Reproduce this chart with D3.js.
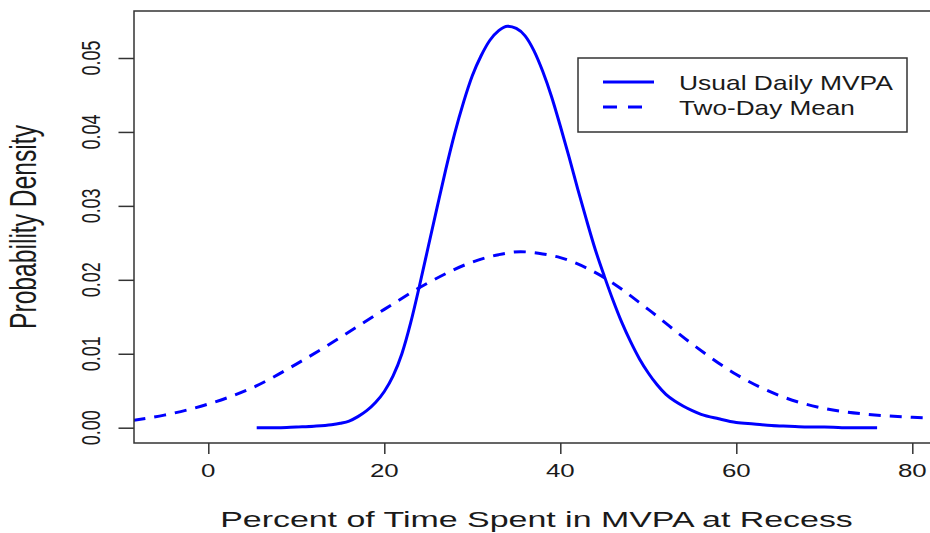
<!DOCTYPE html>
<html>
<head>
<meta charset="utf-8">
<script src="https://cdn.jsdelivr.net/npm/d3@7"></script>
<style>
  html, body { margin: 0; padding: 0; background: #fff; }
  svg { display: block; }
  text { font-family: "Liberation Sans", Arial, sans-serif; fill: #1a1a1a; }
</style>
</head>
<body>
<div id="chart"></div>
<script>
// Density curves
var usualX = [5.5, 8, 10, 12, 14, 15, 16, 17, 18, 19, 20, 21, 22, 23, 24, 25, 26, 27, 28, 29, 30,
              31, 32, 33, 34, 35, 36, 37, 38, 39, 40, 41, 42, 43, 44, 45, 46, 47, 48, 49, 50,
              51, 52, 53, 54, 55, 56, 58, 60, 62, 64, 66, 68, 70, 72, 76];
var usualY = [0.0000, 0.0000, 0.0001, 0.0002, 0.0004, 0.0006, 0.0009, 0.0015, 0.0023, 0.0034, 0.0049,
              0.0070, 0.0100, 0.0142, 0.0192, 0.0245, 0.0298, 0.0350, 0.0398, 0.0440, 0.0476,
              0.0503, 0.0524, 0.0537, 0.0543, 0.0540, 0.0530, 0.0510, 0.0482, 0.0448, 0.0408,
              0.0366, 0.0322, 0.0280, 0.0240, 0.0205, 0.0172, 0.0142, 0.0116, 0.0093, 0.0074,
              0.0058, 0.0045, 0.0036, 0.0029, 0.0023, 0.0018, 0.0012, 0.0007, 0.0005, 0.0003,
              0.0002, 0.0001, 0.0001, 0.0000, 0.0000];

var twoDayX = [-8.5, -5, 0, 5, 10, 15, 20, 25, 30, 33, 35.5, 38, 40, 45, 50, 55, 60, 65, 70, 75, 80, 82];
var twoDayY = [0.0010, 0.0017, 0.0032, 0.0054, 0.0086, 0.0122, 0.0160, 0.0196, 0.0224, 0.0234, 0.0238,
               0.0235, 0.0230, 0.0203, 0.0160, 0.0113, 0.0072, 0.0043, 0.0026, 0.0018, 0.0014, 0.0013];

var xTicks = [0, 20, 40, 60, 80];
var yTicks = [0, 0.01, 0.02, 0.03, 0.04, 0.05];
var legendLabels = ["Usual Daily MVPA", "Two-Day Mean"];

var width = 930,
    height = 533,
    frame = {left: 134, top: 11, right: 936, bottom: 443},
    sx = 1.4;   // the picture is stretched sideways

var x = d3.scaleLinear().domain([0, 80]).range([208.3, 912.3]);
var y = d3.scaleLinear().domain([0, 0.05]).range([427.7, 58]);

var svg = d3.select("#chart").append("svg")
    .attr("width", width)
    .attr("height", height);

// clip the curves to the plot region
svg.append("clipPath").attr("id", "plotClip")
  .append("rect")
    .attr("x", frame.left).attr("y", frame.top)
    .attr("width", frame.right - frame.left).attr("height", frame.bottom - frame.top);

// put a text at (px, py), stretched sideways; rotated texts get thicker glyphs
function addText(px, py, str, size, anchor, rotate, len) {
    var t = svg.append("text")
        .attr("text-anchor", anchor)
        .style("font-size", size + "px")
        .text(str);
    var k = 1;
    if (len) k = len / t.node().getComputedTextLength();
    if (rotate) {
        t.attr("transform", "translate(" + px + "," + py + ") scale(" + sx + ",1) rotate(-90) scale(" + k + ",1)");
    } else {
        t.attr("transform", "translate(" + px + "," + py + ") scale(" + (len ? k : sx) + ",1)");
    }
    return t;
}

var line = d3.line()
    .x(function(d) { return x(d[0]); })
    .y(function(d) { return y(d[1]); })
    .curve(d3.curveMonotoneX);

var plot = svg.append("g").attr("clip-path", "url(#plotClip)");

plot.append("path")
    .datum(d3.zip(twoDayX, twoDayY))
    .attr("d", line)
    .attr("fill", "none")
    .attr("stroke", "#0000ff")
    .attr("stroke-width", 3)
    .attr("stroke-dasharray", "12,9");

plot.append("path")
    .datum(d3.zip(usualX, usualY))
    .attr("d", line)
    .attr("fill", "none")
    .attr("stroke", "#0000ff")
    .attr("stroke-width", 3)
    .attr("stroke-linejoin", "round");

// box round the plot
svg.append("rect")
    .attr("x", frame.left).attr("y", frame.top)
    .attr("width", frame.right - frame.left).attr("height", frame.bottom - frame.top)
    .attr("fill", "none")
    .attr("stroke", "#333")
    .attr("stroke-width", 1.5);

// axes
var xAxis = d3.axisBottom(x).tickValues(xTicks).tickSize(11).tickFormat("");
var yAxis = d3.axisLeft(y).tickValues(yTicks).tickSize(15.5).tickFormat("");

svg.append("g")
    .attr("transform", "translate(0," + frame.bottom + ")")
    .call(xAxis)
    .call(function(g) { g.select(".domain").remove(); })
    .selectAll("line").attr("stroke", "#333").attr("stroke-width", 1.5);

svg.append("g")
    .attr("transform", "translate(" + frame.left + ",0)")
    .call(yAxis)
    .call(function(g) { g.select(".domain").remove(); })
    .selectAll("line").attr("stroke", "#333").attr("stroke-width", 1.5);

xTicks.forEach(function(v) {
    addText(x(v), 477, String(v), 18.5, "middle", false);
});
yTicks.forEach(function(v) {
    addText(100, y(v), v.toFixed(2), 19, "middle", true, 35);
});

// axis titles
addText((220 + 853) / 2, 527, "Percent of Time Spent in MVPA at Recess", 22, "middle", false, 633);
addText(36, 227, "Probability Density", 27, "middle", true, 204);

// legend
var legend = {left: 578, top: 58, right: 907, bottom: 132};
svg.append("rect")
    .attr("x", legend.left).attr("y", legend.top)
    .attr("width", legend.right - legend.left).attr("height", legend.bottom - legend.top)
    .attr("fill", "#fff")
    .attr("stroke", "#333")
    .attr("stroke-width", 1.5);

var rows = [82, 107];
legendLabels.forEach(function(lab, i) {
    var seg = svg.append("line")
        .attr("x1", 603).attr("x2", i === 0 ? 654 : 644)
        .attr("y1", rows[i]).attr("y2", rows[i])
        .attr("stroke", "#0000ff")
        .attr("stroke-width", 3);
    if (i === 1) seg.attr("stroke-dasharray", "14,11");
    addText(679, rows[i] + 8, lab, 20, "start", false, i === 0 ? 214 : 176);
});
</script>
</body>
</html>
